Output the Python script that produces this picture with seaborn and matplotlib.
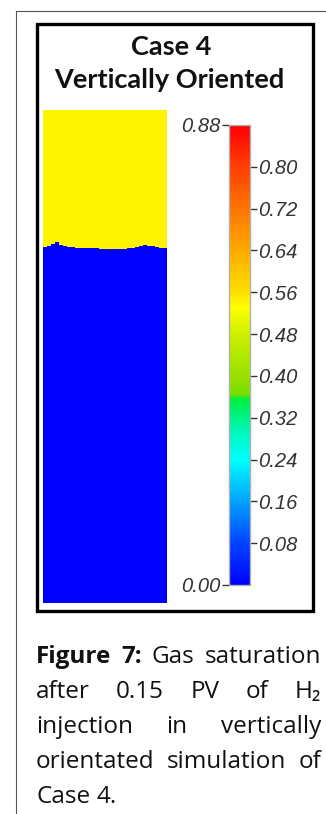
import numpy as np
import matplotlib
matplotlib.use("Agg")
import matplotlib.pyplot as plt
from matplotlib.colors import LinearSegmentedColormap
from matplotlib.font_manager import FontProperties
from matplotlib.lines import Line2D
from matplotlib.patches import Rectangle
import seaborn as sns

# ==========================================
# Data
# ==========================================

title_lines = ["Case 4", "Vertically Oriented"]

# depth of the gas front below the top of the model, in grid rows (493 rows total)
n_rows = 493
front_depth = [137, 136, 134, 132, 135, 136, 137, 137, 138, 138, 138, 138, 138, 138, 139, 139,
               139, 139, 139, 139, 139, 138, 138, 137, 136, 135, 136, 136, 137, 138, 138]
gas_sat_above = 0.54
gas_sat_below = 0.0

vmin, vmax = 0.0, 0.88
right_ticks = [0.08, 0.16, 0.24, 0.32, 0.40, 0.48, 0.56, 0.64, 0.72, 0.80]
left_ticks = [0.00, 0.88]

# colour scale anchors (value, colour)
cmap_values = [0.00, 0.08, 0.16, 0.24, 0.30, 0.355, 0.365, 0.40, 0.48, 0.53, 0.56, 0.64, 0.72, 0.80, 0.88]
cmap_colors = ["#0000ff", "#0044ff", "#00a4ff", "#00ffff", "#00f6b0", "#00ee40", "#77dd00",
               "#99e000", "#ccf000", "#ffff00", "#ffe000", "#ffaa00", "#ff7600", "#ff4000", "#ff0000"]

caption_lines = [
    [("Figure", True), ("7:", True), ("Gas", False), ("saturation", False)],
    [("after", False), ("0.15", False), ("PV", False), ("of", False), ("H\u2082", False)],
    [("injection", False), ("in", False), ("vertically", False)],
    [("orientated", False), ("simulation", False), ("of", False)],
    [("Case", False), ("4.", False)],
]

# ==========================================
# Figure
# ==========================================

W, H = 326, 814
fig = plt.figure(figsize=(W / 100, H / 100), dpi=100)


def fx(x):
    return x / W


def fy(y):
    return 1 - y / H


# saturation grid built from the front depth per column
sat = np.full((n_rows, len(front_depth)), gas_sat_below)
for j, d in enumerate(front_depth):
    sat[:d, j] = gas_sat_above

cmap = LinearSegmentedColormap.from_list(
    "sat", list(zip([v / vmax for v in cmap_values], cmap_colors)))

ax = fig.add_axes([fx(43), fy(603), fx(167) - fx(43), fy(110) - fy(603)])
cax = fig.add_axes([fx(229), fy(585), fx(250) - fx(229), fy(125) - fy(585)])

sns.heatmap(sat, ax=ax, cmap=cmap, vmin=vmin, vmax=vmax, cbar_ax=cax,
            xticklabels=False, yticklabels=False)
ax.set_axis_off()

cbar = ax.collections[0].colorbar
cbar.outline.set_edgecolor("#b0b0b0")
cbar.outline.set_linewidth(1.0)
tick_font = FontProperties(family="Liberation Sans", style="italic", size=14.5)
cbar.set_ticks(right_ticks)
cbar.set_ticklabels([f"{t:.2f}" for t in right_ticks])
cax.tick_params(axis="y", right=True, left=False, length=5, width=1,
                color="#333333", labelcolor="#333333", pad=1)
for lab in cax.get_yticklabels():
    lab.set_fontproperties(tick_font)

sec = cax.secondary_yaxis("left")
sec.set_yticks(left_ticks)
sec.set_yticklabels([f"{t:.2f}" for t in left_ticks])
sec.tick_params(axis="y", length=5, width=1, color="#333333", labelcolor="#333333", pad=1)
for lab in sec.get_yticklabels():
    lab.set_fontproperties(tick_font)
sec.spines["left"].set_visible(False)

# title
fig.text(fx(171), fy(55), title_lines[0], ha="center", va="baseline",
         fontsize=19.5, fontweight="bold", family="Lato", color="#111111")
fig.text(fx(169), fy(88), title_lines[1], ha="center", va="baseline",
         fontsize=19.5, fontweight="bold", family="Lato", color="#111111")

# frames
fig.add_artist(Rectangle((fx(37), fy(611)), fx(313) - fx(37), fy(24) - fy(611),
                         fill=False, edgecolor="black", linewidth=2.4,
                         transform=fig.transFigure))
fig.add_artist(Line2D([fx(15.5), fx(15.5)], [fy(11), 0], color="#555555",
                      linewidth=0.8, transform=fig.transFigure))
fig.add_artist(Line2D([fx(15.5), 1], [fy(11), fy(11)], color="#555555",
                      linewidth=0.8, transform=fig.transFigure))

# justified caption
renderer = fig.canvas.get_renderer()
left, right = 36, 321
baselines = [663, 698, 733, 768, 803]
cap_font = ["Open Sans", "DejaVu Sans"]
for i, (words, base) in enumerate(zip(caption_lines, baselines)):
    texts = []
    for w, bold in words:
        t = fig.text(0, fy(base), w, ha="left", va="baseline", fontsize=17.5,
                     family=cap_font, fontweight="bold" if bold else "normal",
                     color="#111111")
        texts.append(t)
    widths = [t.get_window_extent(renderer).width for t in texts]
    if i == len(caption_lines) - 1:
        gap = 6
    else:
        gap = (right - left - sum(widths)) / (len(texts) - 1)
    x = left
    for t, wd in zip(texts, widths):
        t.set_x(fx(x))
        x += wd + gap

fig.savefig("out.png", dpi=100)
